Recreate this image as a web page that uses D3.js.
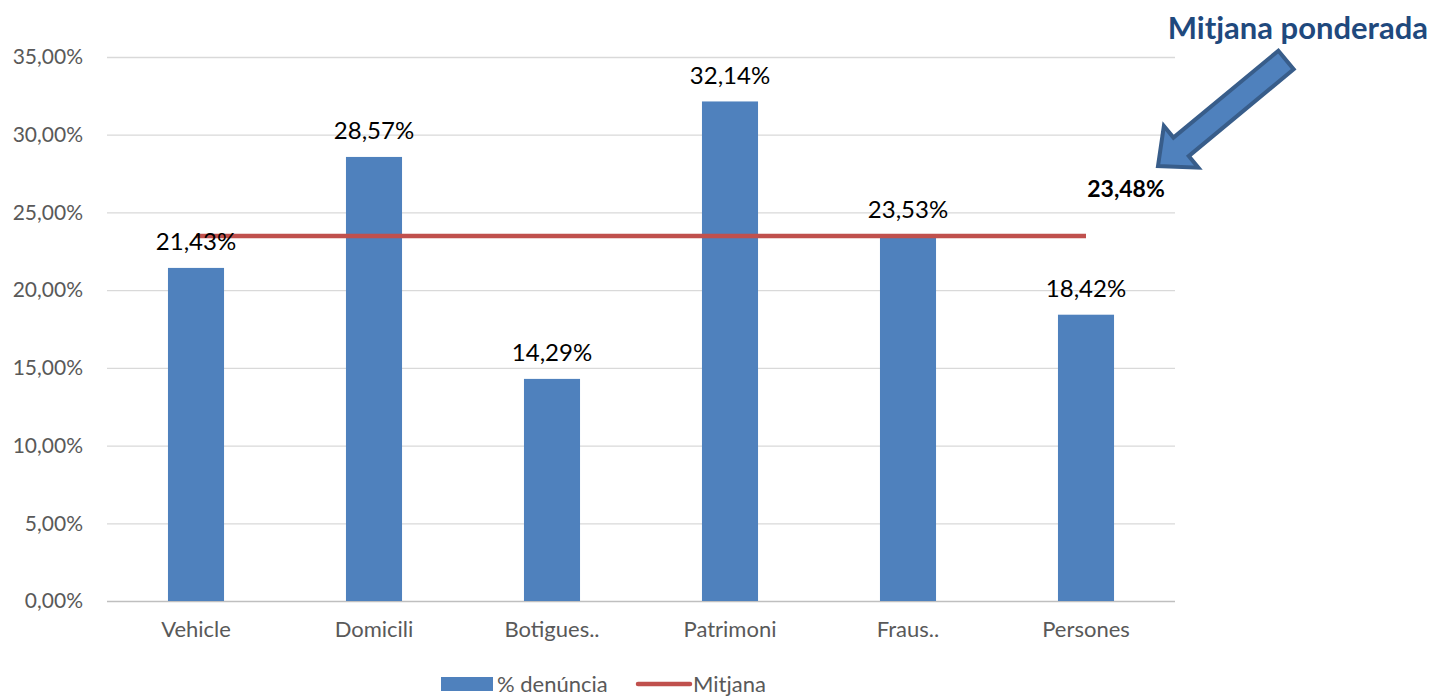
<!DOCTYPE html>
<html>
<head>
<meta charset="utf-8">
<script src="https://cdn.jsdelivr.net/npm/d3@7"></script>
<style>
  body { margin: 0; background: #fff; }
  text { font-family: Lato, "Open Sans", sans-serif; }
</style>
</head>
<body>
<div id="chart"></div>
<script>
const categories = ["Vehicle", "Domicili", "Botigues..", "Patrimoni", "Fraus..", "Persones"];
const denuncia = [21.43, 28.57, 14.29, 32.14, 23.53, 18.42];
const mitjana = [23.48, 23.48, 23.48, 23.48, 23.48, 23.48];
const yTicks = [0, 5, 10, 15, 20, 25, 30, 35];
const seriesNames = ["% denúncia", "Mitjana"];
const annotation = "Mitjana ponderada";

const width = 1431, height = 696;
const margin = { top: 57, right: 256, bottom: 95, left: 107 };
const fmt = (v) => v.toFixed(2).replace(".", ",") + "%";

const svg = d3
  .select("#chart")
  .append("svg")
  .attr("width", width)
  .attr("height", height)
  .attr("viewBox", [0, 0, width, height]);

const x = d3
  .scaleBand()
  .domain(categories)
  .range([margin.left, width - margin.right])
  .paddingInner(0.685)
  .paddingOuter(0.3425);

const y = d3
  .scaleLinear()
  .domain([0, 35])
  .range([height - margin.bottom, margin.top]);

// gridlines
svg
  .append("g")
  .selectAll("line")
  .data(yTicks)
  .join("line")
  .attr("x1", margin.left)
  .attr("x2", width - margin.right)
  .attr("y1", (d) => y(d) + 0.5)
  .attr("y2", (d) => y(d) + 0.5)
  .attr("stroke", (d) => (d === 0 ? "#bfbfbf" : "#d9d9d9"))
  .attr("stroke-width", 1.3);

// y axis
const gy = svg
  .append("g")
  .attr("transform", `translate(${margin.left}, 0)`)
  .call(d3.axisLeft(y).tickValues(yTicks).tickSize(0).tickPadding(24).tickFormat(fmt));
gy.select(".domain").remove();
gy.selectAll("text").attr("font-size", 21).attr("fill", "#595959");

// x axis
const gx = svg
  .append("g")
  .attr("transform", `translate(0, ${height - margin.bottom})`)
  .call(d3.axisBottom(x).tickSize(0).tickPadding(20));
gx.select(".domain").remove();
gx.selectAll("text").attr("font-size", 22).attr("fill", "#595959");

// bars
svg
  .append("g")
  .selectAll("rect")
  .data(denuncia)
  .join("rect")
  .attr("x", (d, i) => x(categories[i]))
  .attr("width", x.bandwidth())
  .attr("y", (d) => y(d))
  .attr("height", (d) => y(0) - y(d))
  .attr("fill", "#4f81bd");

// mean line
const line = d3
  .line()
  .x((d, i) => x(categories[i]) + x.bandwidth() / 2)
  .y((d) => y(d));
svg
  .append("path")
  .datum(mitjana)
  .attr("d", line)
  .attr("fill", "none")
  .attr("stroke", "#c0504d")
  .attr("stroke-width", 4.5);

// bar labels
svg
  .append("g")
  .selectAll("text")
  .data(denuncia)
  .join("text")
  .attr("x", (d, i) => x(categories[i]) + x.bandwidth() / 2)
  .attr("y", (d) => y(d) - 26)
  .attr("text-anchor", "middle")
  .attr("dy", "0.35em")
  .attr("font-size", 24)
  .attr("fill", "#000")
  .text(fmt);

// mean label at last point
const last = mitjana.length - 1;
svg
  .append("text")
  .attr("x", x(categories[last]) + x.bandwidth() / 2 + 40)
  .attr("y", y(mitjana[last]) - 47)
  .attr("dy", "0.35em")
  .attr("text-anchor", "middle")
  .attr("font-size", 23)
  .attr("font-weight", "bold")
  .attr("fill", "#000")
  .text(fmt(mitjana[last]));

// annotation
svg
  .append("text")
  .attr("x", 1428)
  .attr("y", 28)
  .attr("dy", "0.35em")
  .attr("text-anchor", "end")
  .attr("font-size", 31)
  .attr("font-weight", "bold")
  .attr("fill", "#1f497d")
  .text(annotation);

// arrow
const tail = [1286, 60], tip = [1158, 166];
const len = Math.hypot(tip[0] - tail[0], tip[1] - tail[1]);
const ang = (Math.atan2(tip[1] - tail[1], tip[0] - tail[0]) * 180) / Math.PI;
const sw = 12, hw = 27, hl = 30;
const arrowPts = [
  [0, -sw], [len - hl, -sw], [len - hl, -hw], [len, 0],
  [len - hl, hw], [len - hl, sw], [0, sw],
];
svg
  .append("polygon")
  .attr("points", arrowPts.map((p) => p.join(",")).join(" "))
  .attr("transform", `translate(${tail[0]}, ${tail[1]}) rotate(${ang})`)
  .attr("fill", "#4f81bd")
  .attr("stroke", "#385d8a")
  .attr("stroke-width", 4)
  .attr("stroke-linejoin", "miter");

// legend
const legend = svg.append("g").attr("transform", `translate(441, 684)`);
legend
  .append("rect")
  .attr("x", 0)
  .attr("y", -7)
  .attr("width", 52)
  .attr("height", 14)
  .attr("fill", "#4f81bd");
legend
  .append("text")
  .attr("x", 56)
  .attr("y", 0)
  .attr("dy", "0.35em")
  .attr("font-size", 22)
  .attr("fill", "#595959")
  .text(seriesNames[0]);
legend
  .append("line")
  .attr("x1", 197)
  .attr("x2", 249)
  .attr("y1", 0)
  .attr("y2", 0)
  .attr("stroke", "#c0504d")
  .attr("stroke-width", 4.5)
  .attr("stroke-linecap", "round");
legend
  .append("text")
  .attr("x", 252)
  .attr("y", 0)
  .attr("dy", "0.35em")
  .attr("font-size", 22)
  .attr("fill", "#595959")
  .text(seriesNames[1]);
</script>
</body>
</html>
